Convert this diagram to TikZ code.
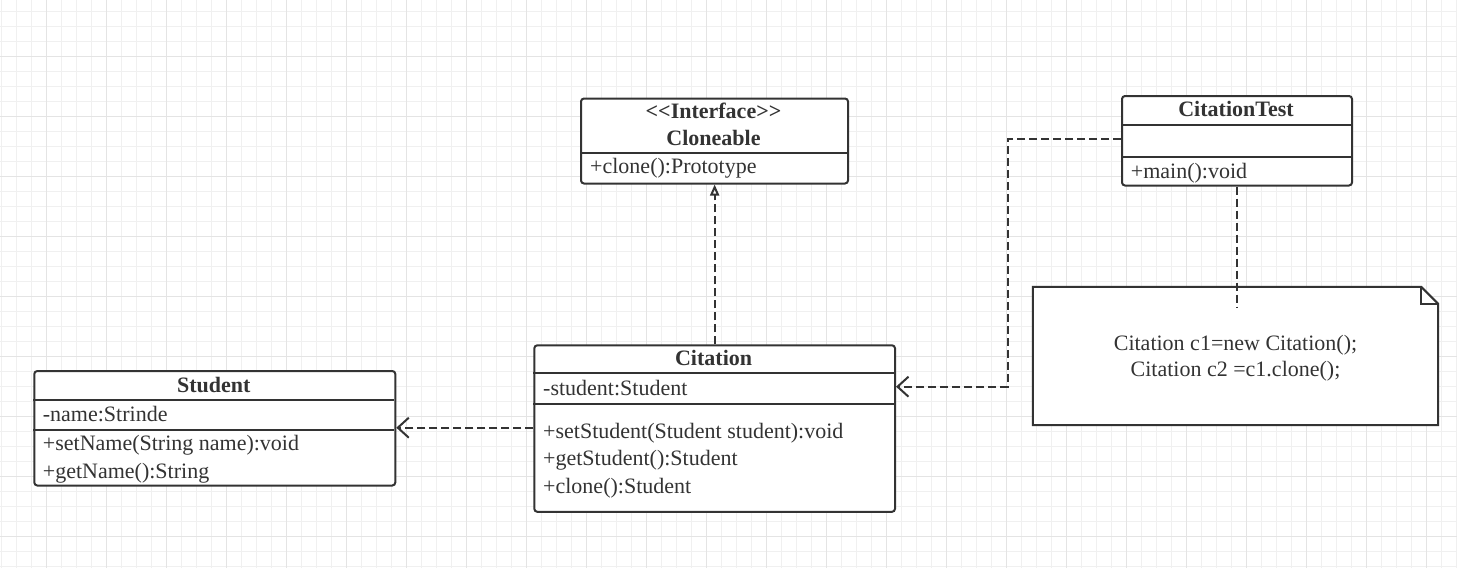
\documentclass[tikz,border=0pt]{standalone}
\usepackage{fontspec}
\setmainfont{Liberation Serif}
\usetikzlibrary{arrows.meta}
\definecolor{ink}{HTML}{333333}
\definecolor{gminor}{HTML}{F0F0F0}
\definecolor{gmajor}{HTML}{E4E4E4}
\tikzset{
  umlbox/.style={draw=ink, line width=2pt, rounded corners=3pt, inner sep=0pt, anchor=north west, fill=white},
  divider/.style={draw=ink, line width=2pt},
  txt/.style={anchor=base west, inner sep=0pt, text=ink, font=\fontsize{22}{26}\selectfont},
  ttl/.style={anchor=base, inner sep=0pt, text=ink, font=\fontsize{22}{26}\selectfont\bfseries},
  dep/.style={draw=ink, line width=2pt, dash pattern=on 8pt off 4pt},
  deparrow/.style={dep, -{Straight Barb[length=11pt,width=20pt,line width=2pt]}},
  realarrow/.style={dep, -{Triangle[open,length=11pt,width=9pt,line width=2pt]}},
}
\begin{document}
\begin{tikzpicture}[x=1pt,y=-1pt]
\useasboundingbox (0,0) rectangle (1457,568);
\fill[white] (0,0) rectangle (1457,568);
% grid
\foreach \x in {1.7,16.7,...,1457} \draw[gminor, line width=0.8pt] (\x,0) -- (\x,568);
\foreach \y in {11.7,26.7,...,568} \draw[gminor, line width=0.8pt] (0,\y) -- (1457,\y);
\foreach \x in {46.7,106.7,...,1457} \draw[gmajor, line width=0.8pt] (\x,0) -- (\x,568);
\foreach \y in {56.7,116.7,...,568} \draw[gmajor, line width=0.8pt] (0,\y) -- (1457,\y);

% Cloneable
\node[umlbox, minimum width=267pt, minimum height=85pt] (clo) at (580,97.5) {};
\draw[divider] (580,152.5) -- (847,152.5);
\node[ttl] (cloS) at (713.5,118.3) {{<}{<}Interface{>}{>}};
\node[ttl] (cloT) at (713.5,145) {Cloneable};
\node[txt] (cloM) at (590,173.3) {+clone():Prototype};

% CitationTest
\node[umlbox, minimum width=230pt, minimum height=89.5pt] (ct) at (1121,95) {};
\draw[divider] (1121,124.5) -- (1351,124.5);
\draw[divider] (1121,156.7) -- (1351,156.7);
\node[ttl] (ctT) at (1236,116.7) {CitationTest};
\node[txt] (ctM) at (1130.7,178.3) {+main():void};

% Student
\node[umlbox, minimum width=361pt, minimum height=114.5pt] (stu) at (33.3,370) {};
\draw[divider] (33.3,400) -- (394.3,400);
\draw[divider] (33.3,430) -- (394.3,430);
\node[ttl] (stuT) at (213.8,392.3) {Student};
\node[txt] (stuA) at (42.7,421.7) {-name:Strinde};
\node[txt] (stuM1) at (42.7,450.7) {+setName(String name):void};
\node[txt] (stuM2) at (42.7,478.3) {+getName():String};

% Citation
\node[umlbox, minimum width=360.7pt, minimum height=166.5pt] (cit) at (533.3,344.3) {};
\draw[divider] (533.3,373.3) -- (894,373.3);
\draw[divider] (533.3,404) -- (894,404);
\node[ttl] (citT) at (713.6,365.7) {Citation};
\node[txt] (citA) at (543,395.7) {-student:Student};
\node[txt] (citM1) at (543,438) {+setStudent(Student student):void};
\node[txt] (citM2) at (543,465.7) {+getStudent():Student};
\node[txt] (citM3) at (543,493) {+clone():Student};

% Note
\node[inner sep=0pt, minimum width=405pt, minimum height=138pt] (note) at (1235.5,356) {};
\draw[ink, line width=2pt, fill=white] (note.north west) -- ([xshift=-17pt]note.north east) -- ([yshift=-17pt]note.north east) -- (note.south east) -- (note.south west) -- cycle;
\draw[ink, line width=2pt] ([xshift=-17pt]note.north east) -- ([xshift=-17pt,yshift=-17pt]note.north east) -- ([yshift=-17pt]note.north east);
\node[txt, anchor=base] (n1) at (1235.5,350) {Citation c1=new Citation();};
\node[txt, anchor=base] (n2) at (1235.5,376.7) {Citation c2 =c1.clone();};

% connectors
\draw[realarrow] (cit.north) -- (cit.north |- clo.south);
\coordinate (sy) at (0,427.7);
\draw[deparrow] (cit.west |- sy) -- (stu.east |- sy);
\coordinate (bend1) at (1007.7,139.3);
\coordinate (bend2) at (1007.7,386.7);
\draw[deparrow] (ct.west |- bend1) -- (bend1) -- (bend2) -- (cit.east |- bend2);
\coordinate (ntend) at (1236,307.7);
\draw[dep] (ct.south) -- (ct.south |- ntend);
\end{tikzpicture}
\end{document}
